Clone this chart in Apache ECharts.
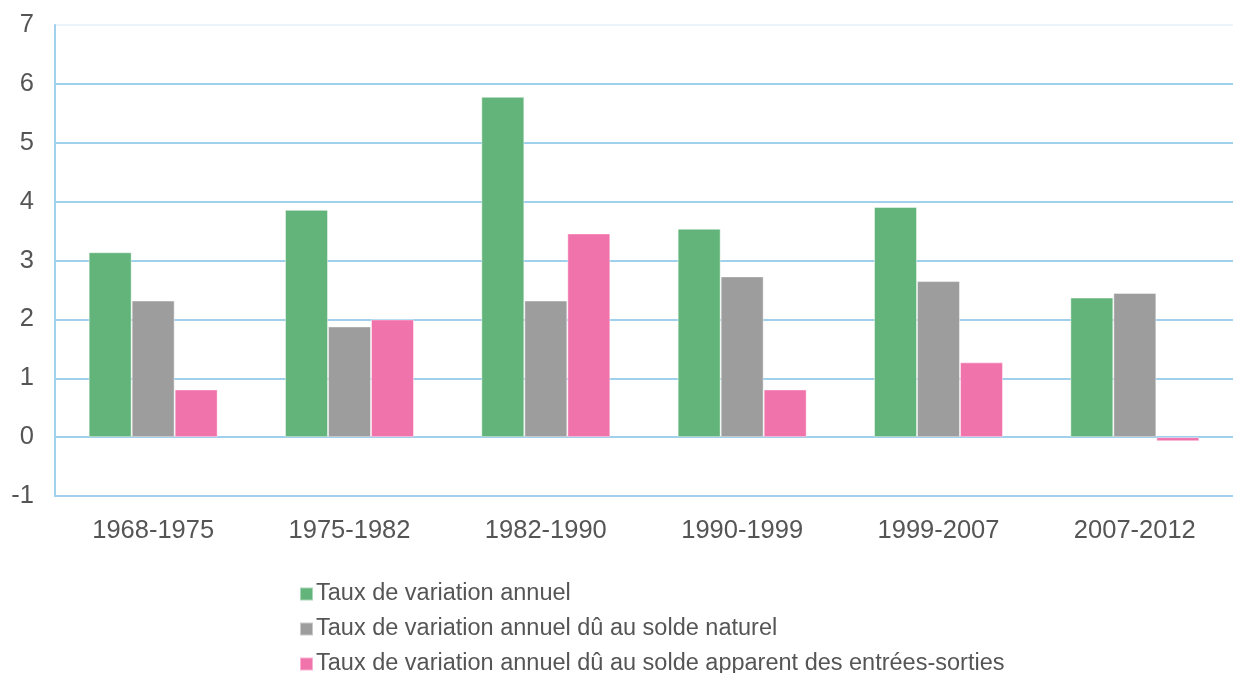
<!DOCTYPE html>
<html>
<head>
<meta charset="utf-8">
<script src="https://cdn.jsdelivr.net/npm/echarts@6/dist/echarts.min.js"></script>
<style>
  html, body { margin: 0; padding: 0; background: #fff; }
  #chart { width: 1233px; height: 673px; }
</style>
</head>
<body>
<div id="chart"></div>
<script>
// periodes intercensitaires
var periodes = ["1968-1975", "1975-1982", "1982-1990", "1990-1999", "1999-2007", "2007-2012"];
// taux annuels (%)
var tauxVariation = [3.14, 3.86, 5.78, 3.54, 3.91, 2.37];
var tauxSoldeNaturel = [2.32, 1.88, 2.32, 2.73, 2.65, 2.45];
var tauxSoldeMigratoire = [0.81, 2.0, 3.46, 0.81, 1.27, -0.07];
var nomsSeries = [
  "Taux de variation annuel",
  "Taux de variation annuel dû au solde naturel",
  "Taux de variation annuel dû au solde apparent des entrées-sorties"
];
var couleurs = ["#62b47a", "#9d9d9d", "#f173ac"];

var bleu = "#9fd0ec";
var texte = "#555555";
var police = "Liberation Sans, Arial, sans-serif";

var chart = echarts.init(document.getElementById("chart"));

function serie(i, data) {
  return {
    name: nomsSeries[i],
    type: "bar",
    data: data,
    barWidth: 43,
    barGap: "0%",
    itemStyle: {
      color: couleurs[i],
      borderColor: "rgba(255,255,255,0.45)",
      borderWidth: 1
    }
  };
}

var option = {
  animation: false,
  backgroundColor: "#fff",
  grid: { left: 55, right: 0, top: 25, bottom: 177 },
  legend: {
    orient: "vertical",
    left: 294,
    top: 577,
    height: 150,
    itemWidth: 13,
    itemHeight: 13,
    itemGap: 11,
    icon: "rect",
    selectedMode: false,
    textStyle: { fontSize: 23.5, color: texte, fontFamily: police, padding: [0, 0, 0, -2] },
    data: nomsSeries
  },
  xAxis: {
    type: "category",
    data: periodes,
    axisLine: { onZero: false, lineStyle: { color: bleu, width: 2 } },
    axisTick: { show: false },
    axisLabel: { fontSize: 25.5, color: texte, fontFamily: police, margin: 22 }
  },
  yAxis: {
    type: "value",
    min: -1,
    max: 7,
    interval: 1,
    axisLine: { show: true, lineStyle: { color: bleu, width: 2 } },
    axisTick: { show: false },
    axisLabel: { fontSize: 25.5, color: texte, fontFamily: police, margin: 21 },
    splitLine: {
      lineStyle: {
        width: 2,
        color: [bleu, bleu, bleu, bleu, bleu, bleu, bleu, bleu, "#eaf4fa"]
      }
    }
  },
  series: [
    serie(0, tauxVariation),
    serie(1, tauxSoldeNaturel),
    serie(2, tauxSoldeMigratoire)
  ]
};

chart.setOption(option);
</script>
</body>
</html>
